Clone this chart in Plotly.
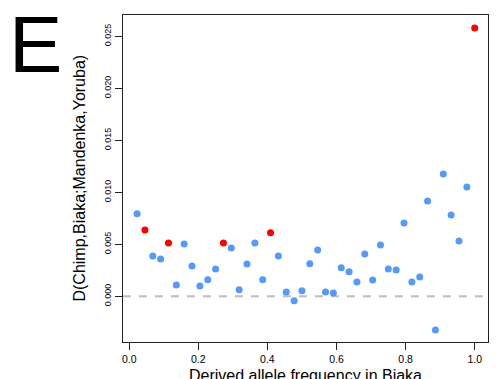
import plotly.graph_objects as go

# Data: derived allele frequency bins (k/44) and D statistic values
freq_k = list(range(1, 45))
freq = [k / 44 for k in freq_k]
d_values = [0.00794, 0.00638, 0.00388, 0.00359, 0.00513, 0.00109, 0.00503, 0.00291,
            0.00099, 0.00160, 0.00262, 0.00513, 0.00464, 0.00064, 0.00311, 0.00513,
            0.00160, 0.00612, 0.00388, 0.00041, -0.00042, 0.00054, 0.00314, 0.00445,
            0.00041, 0.00032, 0.00275, 0.00237, 0.00138, 0.00407, 0.00157, 0.00493,
            0.00262, 0.00253, 0.00705, 0.00138, 0.00186, 0.00916, -0.00324, 0.01176,
            0.00782, 0.00532, 0.01051, 0.02580]
red_bins = [2, 5, 12, 18, 44]  # k values highlighted in red
ref_level = 0.0

x_ticks = [0.0, 0.2, 0.4, 0.6, 0.8, 1.0]
x_ticklabels = ["0.0", "0.2", "0.4", "0.6", "0.8", "1.0"]
y_ticks = [0.0, 0.005, 0.010, 0.015, 0.020, 0.025]
y_ticklabels = ["0.000", "0.005", "0.010", "0.015", "0.020", "0.025"]

x_title = "Derived allele frequency in Biaka"
y_title = "D(Chimp,Biaka;Mandenka,Yoruba)"
main_title = "Derived allele frequency in Biaka"
panel_letter = "E"

FONT = "Liberation Sans, Arial, Helvetica, sans-serif"
BLUE = "#5599fa"
RED = "#ff0000"

bx = [f for k, f in zip(freq_k, freq) if k not in red_bins]
by = [d for k, d in zip(freq_k, d_values) if k not in red_bins]
rx = [f for k, f in zip(freq_k, freq) if k in red_bins]
ry = [d for k, d in zip(freq_k, d_values) if k in red_bins]

fig = go.Figure()
fig.add_trace(go.Scatter(x=bx, y=by, mode="markers",
                         marker=dict(color=BLUE, size=7, line=dict(width=0)),
                         showlegend=False))
fig.add_trace(go.Scatter(x=rx, y=ry, mode="markers",
                         marker=dict(color=RED, size=7, line=dict(width=0)),
                         showlegend=False))

fig.add_shape(type="line", xref="paper", yref="y", x0=0, x1=1, y0=ref_level, y1=ref_level,
              line=dict(color="#bdbdbd", width=2, dash="8px,8px"), layer="below")

axis_common = dict(showgrid=False, zeroline=False, showline=True, mirror=True,
                   linecolor="#222222", linewidth=1.2, ticks="outside", ticklen=7,
                   tickcolor="#222222", tickwidth=1.2)

fig.update_layout(
    width=497, height=379,
    margin=dict(l=123, r=9, t=15, b=37),
    paper_bgcolor="white", plot_bgcolor="white",
    font=dict(family=FONT, color="black"),
    xaxis=dict(range=[-0.018, 1.0385], tickvals=x_ticks, ticktext=x_ticklabels,
               tickfont=dict(size=10.5, family=FONT, color="black"), **axis_common),
    yaxis=dict(range=[-0.00439, 0.02705], tickvals=y_ticks, ticktext=y_ticklabels,
               tickangle=-90, tickfont=dict(size=9, family=FONT, color="black"),
               **axis_common),
    annotations=[
        dict(text=x_title, xref="paper", yref="paper", x=0.5, y=-0.1024,
             xanchor="center", yanchor="middle", showarrow=False,
             font=dict(size=16, family=FONT, color="black")),
        dict(text=main_title, xref="paper", yref="paper", x=0.5, y=1.0715,
             xanchor="center", yanchor="middle", showarrow=False,
             font=dict(size=16, family=FONT, color="black")),
        dict(text=y_title, xref="paper", yref="paper", x=-0.1205, y=0.5,
             xanchor="center", yanchor="middle", textangle=-90, showarrow=False,
             font=dict(size=16, family=FONT, color="black")),
        dict(text=panel_letter, xref="paper", yref="paper", x=-0.24, y=0.9089,
             xanchor="center", yanchor="middle", showarrow=False,
             font=dict(size=80, family=FONT, color="black")),
    ],
)

fig.write_html("out.html")
